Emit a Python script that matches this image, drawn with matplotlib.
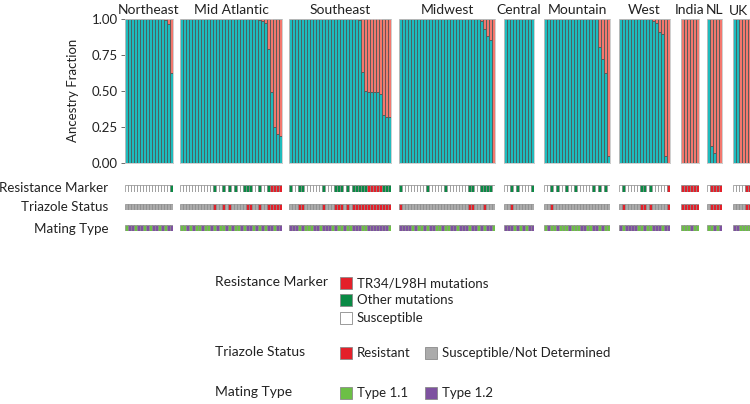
import matplotlib
matplotlib.use("Agg")
import matplotlib.pyplot as plt
from matplotlib.patches import Rectangle

plt.rcParams['font.family'] = ['Lato', 'DejaVu Sans']

# ---------------- data ----------------
regions = ["Northeast", "Mid Atlantic", "Southeast", "Midwest", "Central",
           "Mountain", "West", "India", "NL", "UK"]

# fraction of ancestry cluster 1 (teal) per isolate; remainder is cluster 2 (salmon)
cluster1_fraction = [
    [1, 1, 1, 1, 1, 1, 1, 1, 1, 1, 1, 1, 0.995, 0.99, 0.96, 0.625],
    [1]*25 + [0.995, 0.99, 0.985, 0.97, 0.79, 0.49, 0.25, 0.20, 0.19],
    [1]*23 + [0.99, 0.63, 0.50, 0.49, 0.49, 0.49, 0.49, 0.48, 0.33, 0.32, 0.32],
    [1]*27 + [0.985, 0.93, 0.88, 0.85, 0.0],
    [1]*10,
    [1]*18 + [0.80, 0.72, 0.62, 0.05],
    [1]*11 + [0.98, 0.97, 0.91, 0.89, 0.05, 0.0],
    [0, 0, 0, 0, 0, 0],
    [1.0, 0.12, 0.07, 0, 0],
    [1.0, 1.0, 0, 0, 0, 0],
]

# resistance marker: T = TR34/L98H, O = other mutations, S = susceptible
resistance_marker = [
    "SSSSSSSSSSSSSSSO",
    "SSSSSSSSSSSOSSOSOSOSSOOOSSOSSOTTTT",
    "OSSOOSSSSSSOSSSOOOSOSOOOOOTTTTTOOO",
    "OSSSSSSSSOSSSSSOSSSSSSSOOSSOOOOS",
    "SSOSOSSSSO",
    "SSOSOSSOSSOSSSSSOSOSOS",
    "SOSSSSSOOSOSSSSST",
    "TTTTTT",
    "STTTT",
    "SSSSTT",
]

# triazole status: R = resistant, S = susceptible / not determined
triazole_status = [
    "SSSSSSSSSSSSSSSS",
    "SSSSSSSSSSSRSSRSRSSSSSRRSSRSSRRRRR",
    "SSSRRSSSSSSRSSSRRRSRSRRRRRRRRRRRRR",
    "RSSSSSSSSSSSSSSSSSSSSSSRRSSSRSSS",
    "SSRSSSSSSS",
    "SSRSSSSSSSSSSSSSSSSSSS",
    "SRSSSSSRRSRSSSSSR",
    "RRRRRR",
    "SRRRR",
    "SSSSRR",
]

# mating type: 1 = MAT1-1, 2 = MAT1-2
mating_type = [
    "1221221212212122",
    "1121211211212112121121221212122122",
    "2221211122122212112112221122222221",
    "22221211212211211221222122121221",
    "2221212122",
    "1211211121112211221211",
    "21222211211222122",
    "111211",
    "11212",
    "221111",
]

y_ticks = [0.00, 0.25, 0.50, 0.75, 1.00]

# ---------------- style ----------------
TEAL = "#1EBBBD"
SALMON = "#F3786E"
EDGE = "#4d5a5a"
RES_COL = {"T": "#E3202A", "O": "#0A8A45", "S": "#FFFFFF"}
TRI_COL = {"R": "#E3202A", "S": "#ABABAB"}
MAT_COL = {"1": "#6CBF46", "2": "#7E52A0"}

W, H = 750, 404
fig = plt.figure(figsize=(W/100, H/100), dpi=100)

panel_x = [124.5, 180, 289, 399, 504, 544, 619, 681, 707, 733]
BW = 3.0

def px_axes(x0, y0, w, h):
    return fig.add_axes([x0/W, 1-(y0+h)/H, w/W, h/H])

TOP, BOT = 18.5, 163.0
strip_rows = [(resistance_marker, RES_COL, 185.0), (triazole_status, TRI_COL, 203.5),
              (mating_type, MAT_COL, 225.0)]
STRIP_H = 6.5

for i, name in enumerate(regions):
    vals = cluster1_fraction[i]
    n = len(vals)
    x0 = panel_x[i]
    ax = px_axes(x0, TOP, n*BW, BOT-TOP)
    xs = list(range(n))
    ax.bar(xs, vals, width=1.0, color=TEAL, edgecolor=EDGE, linewidth=0.6, align='edge')
    ax.bar(xs, [1-v for v in vals], bottom=vals, width=1.0, color=SALMON,
           edgecolor=EDGE, linewidth=0.6, align='edge')
    ax.set_xlim(0, n)
    ax.set_ylim(0, 1)
    ax.set_xticks([])
    for s in ax.spines.values():
        s.set_color("#c8c8c8")
        s.set_linewidth(0.6)
    if i == 0:
        ax.set_yticks(y_ticks)
        ax.set_yticklabels([f"{t:.2f}" for t in y_ticks], fontsize=9.5, color="#222222")
        ax.tick_params(axis='y', length=3, width=0.6, color="#555555", pad=2)
        ax.set_ylabel("Ancestry Fraction", fontsize=9.5, color="#222222", labelpad=9)
    else:
        ax.set_yticks([])
    if i < len(regions) - 1:
        ax.set_title(name, fontsize=10, color="#222222", pad=3)

    for codes, cmap, ytop in strip_rows:
        sa = px_axes(x0, ytop, n*BW, STRIP_H)
        sa.bar(xs, [1]*n, width=1.0, color=[cmap[c] for c in codes[i]],
               edgecolor="#8a8a8a", linewidth=0.5, align='edge')
        sa.set_xlim(0, n)
        sa.set_ylim(0, 1)
        sa.axis('off')

# overlay for labels and legend in pixel coordinates
lay = fig.add_axes([0, 0, 1, 1])
lay.set_xlim(0, W)
lay.set_ylim(H, 0)
lay.axis('off')
lay.patch.set_alpha(0)

TXT = "#222222"
# last panel title sits at the right edge of the figure
lay.text(748, 15, regions[-1], ha='right', va='baseline', fontsize=10, color=TXT)

for label, yc in [("Resistance Marker", 188), ("Triazole Status", 207), ("Mating Type", 229)]:
    lay.text(108, yc, label, ha='right', va='center', fontsize=9.6, color=TXT)

def key(x, y, col, text):
    lay.add_patch(Rectangle((x, y-6), 12, 12, facecolor=col, edgecolor="#8a8a8a", linewidth=0.6))
    lay.text(x+17, y, text, ha='left', va='center', fontsize=9.5, color=TXT)

lay.text(215, 282, "Resistance Marker", ha='left', va='center', fontsize=10, color=TXT)
key(340, 283, RES_COL["T"], "TR34/L98H mutations")
key(340, 300, RES_COL["O"], "Other mutations")
key(340, 318, RES_COL["S"], "Susceptible")

lay.text(215, 352, "Triazole Status", ha='left', va='center', fontsize=10, color=TXT)
key(340, 353, TRI_COL["R"], "Resistant")
key(425, 353, TRI_COL["S"], "Susceptible/Not Determined")

lay.text(215, 392, "Mating Type", ha='left', va='center', fontsize=10, color=TXT)
key(340, 393, MAT_COL["1"], "Type 1.1")
key(425, 393, MAT_COL["2"], "Type 1.2")

fig.savefig("out.png", dpi=100)
